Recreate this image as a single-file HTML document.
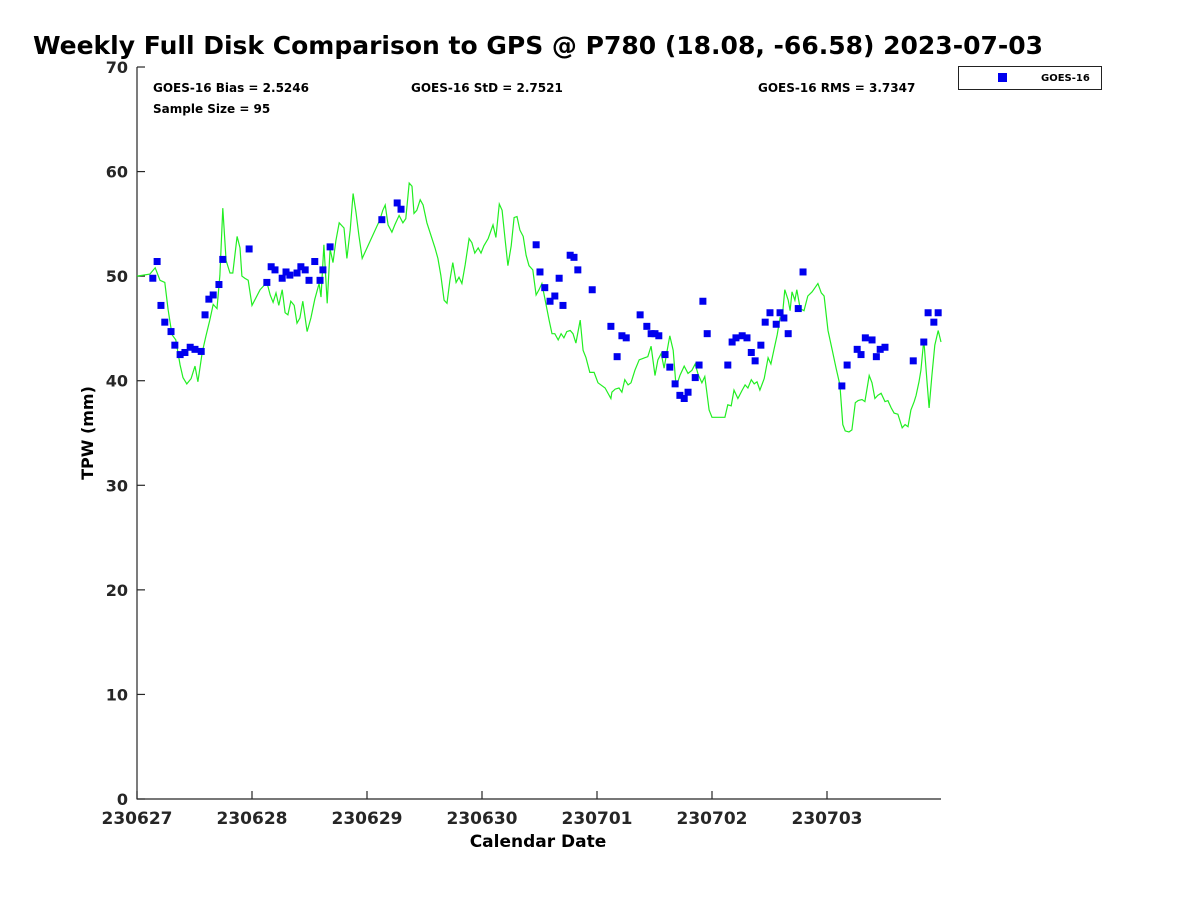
<!DOCTYPE html>
<html><head><meta charset="utf-8"><style>
body{margin:0;background:#fff;}
svg{display:block;font-family:"DejaVu Sans","Liberation Sans",sans-serif;}
</style></head><body>
<svg id="chart" width="1200" height="900">
<text x="538" y="54" text-anchor="middle" font-size="25" font-weight="bold">Weekly Full Disk Comparison to GPS @ P780 (18.08, -66.58) 2023-07-03</text>
<text x="153" y="92" font-size="12" font-weight="bold">GOES-16 Bias = 2.5246</text>
<text x="411" y="92" font-size="12" font-weight="bold">GOES-16 StD = 2.7521</text>
<text x="758" y="92" font-size="12" font-weight="bold">GOES-16 RMS = 3.7347</text>
<text x="153" y="113" font-size="12" font-weight="bold">Sample Size = 95</text>
<g>
<rect x="958.5" y="66.5" width="143" height="23" fill="#fff" stroke="#222"/>
<rect x="998" y="73" width="9" height="9" fill="#0000ee"/>
<text x="1041" y="81" font-size="10" font-weight="bold">GOES-16</text>
</g>
<g id="axes"></g>
<g id="gps"></g>
<g id="goes"></g>
<text x="538" y="847" text-anchor="middle" font-size="17" font-weight="bold">Calendar Date</text>
<text transform="translate(93,433) rotate(-90)" text-anchor="middle" font-size="16" font-weight="bold">TPW (mm)</text>
</svg>
<script>
const xTickLabels=["230627","230628","230629","230630","230701","230702","230703"];
const yTicks=[0,10,20,30,40,50,60,70];
const goesHours=[3.3,4.2,5.0,5.8,7.1,7.9,9.0,10.0,11.1,12.1,13.4,14.2,15.0,15.9,17.1,17.9,23.4,27.1,28.0,28.8,30.3,31.1,31.9,33.4,34.2,35.1,35.9,37.1,38.2,38.8,40.3,51.1,54.3,55.1,83.3,84.1,85.1,86.2,87.2,88.1,88.9,90.4,91.2,92.0,95.0,98.9,100.2,101.2,102.1,105.0,106.4,107.3,108.1,108.9,110.2,111.2,112.3,113.3,114.2,115.0,116.5,117.3,118.1,119.0,123.3,124.2,125.0,126.3,127.3,128.2,129.0,130.2,131.1,132.1,133.4,134.2,135.0,135.9,138.0,139.0,147.1,148.2,150.3,151.1,152.0,153.4,154.3,155.1,156.1,162.0,164.2,165.1,166.3,167.2];
const goesTPW=[49.8,51.4,47.2,45.6,44.7,43.4,42.5,42.7,43.2,43.0,42.8,46.3,47.8,48.2,49.2,51.6,52.6,49.4,50.9,50.6,49.8,50.4,50.1,50.3,50.9,50.6,49.6,51.4,49.6,50.6,52.8,55.4,57.0,56.4,53.0,50.4,48.9,47.6,48.1,49.8,47.2,52.0,51.8,50.6,48.7,45.2,42.3,44.3,44.1,46.3,45.2,44.5,44.5,44.3,42.5,41.3,39.7,38.6,38.3,38.9,40.3,41.5,47.6,44.5,41.5,43.7,44.1,44.3,44.1,42.7,41.9,43.4,45.6,46.5,45.4,46.5,46.0,44.5,46.9,50.4,39.5,41.5,43.0,42.5,44.1,43.9,42.3,43.0,43.2,41.9,43.7,46.5,45.6,46.5];
const gpsHours=[0,2.7,3.8,4.8,5.8,6.5,7.3,8.1,9.0,9.6,10.4,11.3,12.1,12.7,13.6,14.4,15.2,15.9,16.7,17.3,17.9,18.6,19.4,20.0,20.9,21.5,21.9,22.5,23.2,24.0,25.7,27.1,27.8,28.4,29.0,29.6,30.3,30.9,31.5,32.1,32.8,33.4,34.0,34.6,35.5,36.3,37.1,38.0,38.4,39.0,39.7,40.3,40.9,41.5,42.2,42.6,43.2,43.8,44.5,45.1,45.7,46.3,47.0,50.7,51.3,51.8,52.4,53.2,53.8,54.7,55.5,56.1,56.8,57.4,57.8,58.4,59.1,59.7,60.5,62.2,62.8,63.4,64.1,64.7,65.3,65.9,66.6,67.2,67.8,68.5,69.3,69.9,70.5,71.2,71.8,72.4,73.3,74.3,74.9,75.6,76.2,76.8,77.4,78.1,78.7,79.3,79.9,80.6,81.2,81.8,82.6,83.3,83.9,84.5,85.4,86.0,86.6,87.2,87.9,88.5,89.1,89.7,90.4,91.0,91.6,92.5,93.1,93.7,94.5,95.4,96.2,97.7,98.9,99.1,99.8,100.6,101.2,101.8,102.5,103.1,103.9,104.8,105.4,106.0,106.6,107.3,108.1,108.7,109.4,110.0,110.6,111.2,111.9,112.5,113.3,114.2,115.0,115.8,116.5,117.1,117.9,118.5,119.4,120.0,122.7,123.3,124.0,124.6,125.4,126.3,126.9,127.5,128.2,128.8,129.4,130.0,130.9,131.7,132.3,132.9,133.6,134.2,134.6,135.2,135.9,136.3,136.7,137.3,137.7,138.4,139.2,140.0,140.9,141.5,142.1,142.8,143.4,144.2,145.1,145.9,146.7,147.3,147.8,148.6,149.2,149.9,150.5,151.3,151.9,152.8,153.4,154.0,154.6,155.3,156.1,156.7,157.4,158.0,158.8,159.7,160.3,160.9,161.5,162.2,162.6,163.2,163.6,164.2,164.9,165.3,165.9,166.5,167.2,167.8];
const gpsTPW=[50.0,50.2,50.8,49.6,49.4,46.8,44.4,43.9,41.5,40.3,39.7,40.2,41.4,39.9,42.7,44.3,45.8,47.3,46.9,50.1,56.5,51.5,50.3,50.3,53.8,52.7,50.0,49.8,49.6,47.2,48.7,49.4,48.2,47.5,48.4,47.2,48.7,46.5,46.3,47.6,47.2,45.5,46.0,47.6,44.7,46.0,47.8,49.3,48.0,53.0,47.4,52.6,51.3,53.4,55.1,54.9,54.6,51.7,54.4,57.9,56.1,53.9,51.7,55.4,56.3,56.8,54.9,54.2,54.9,55.8,55.1,55.5,58.9,58.6,56.0,56.3,57.3,56.8,55.1,52.7,51.7,50.1,47.7,47.4,49.6,51.3,49.4,49.9,49.3,51.1,53.6,53.2,52.2,52.7,52.2,52.9,53.6,54.9,53.7,56.9,56.3,53.6,51.0,52.9,55.6,55.7,54.4,53.8,52.0,51.0,50.6,48.2,48.7,49.3,47.2,45.8,44.5,44.5,43.9,44.5,44.1,44.7,44.8,44.5,43.6,45.8,42.9,42.2,40.8,40.8,39.8,39.3,38.3,38.9,39.2,39.3,38.9,40.1,39.6,39.8,41.0,42.0,42.1,42.2,42.3,43.3,40.5,42.0,42.6,41.2,42.8,44.3,42.9,39.4,40.5,41.4,40.7,41.0,41.6,40.6,39.8,40.4,37.2,36.5,36.5,37.7,37.6,39.1,38.3,39.1,39.6,39.3,40.1,39.7,39.9,39.1,40.2,42.2,41.6,42.9,44.4,46.0,45.8,48.7,47.7,46.7,48.5,47.7,48.7,46.9,46.7,48.1,48.5,48.9,49.3,48.4,48.1,44.8,42.9,41.2,39.6,35.8,35.2,35.1,35.3,37.9,38.1,38.2,38.0,40.5,39.8,38.3,38.6,38.8,38.0,38.1,37.4,36.9,36.8,35.5,35.8,35.6,37.2,38.0,38.6,39.9,41.0,43.9,39.8,37.4,40.5,43.4,44.8,43.7];

const NS="http://www.w3.org/2000/svg";
const X0=137,PXH=115/24,Y0=799,PXMM=10.457;
const xs=h=>X0+h*PXH, ys=v=>Y0-v*PXMM;
function mk(tag,attrs,parent){const e=document.createElementNS(NS,tag);for(const k in attrs)e.setAttribute(k,attrs[k]);parent.appendChild(e);return e;}
const axes=document.getElementById('axes');
const la=mk('line',{x1:X0,y1:ys(70),x2:X0,y2:Y0+0.5,stroke:'#262626','stroke-width':1.2},axes);


const ba=mk('line',{x1:X0,y1:Y0,x2:941,y2:Y0,stroke:'#262626','stroke-width':1.2},axes);


yTicks.forEach(v=>{
 const t=mk('line',{x1:X0,y1:ys(v),x2:X0+8,y2:ys(v),stroke:'#262626','stroke-width':1.2},axes);
 
 
 const l=mk('text',{x:X0-9,y:ys(v)+6,'text-anchor':'end','font-size':16,'font-weight':'bold',fill:'#262626'},axes);
 l.textContent=v;
 
 
});
xTickLabels.forEach((s,i)=>{
 const x=xs(i*24);
 const t=mk('line',{x1:x,y1:Y0,x2:x,y2:Y0-8,stroke:'#262626','stroke-width':1.2},axes);
 
 
 const l=mk('text',{x:x,y:Y0+25,'text-anchor':'middle','font-size':17,'font-weight':'bold',fill:'#262626'},axes);
 l.textContent=s;
 
 
});
const pts=gpsHours.map((h,i)=>xs(h).toFixed(1)+','+ys(gpsTPW[i]).toFixed(1)).join(' ');
const pl=mk('polyline',{points:pts,fill:'none',stroke:'#22ee22','stroke-width':1.2},document.getElementById('gps'));


const g=document.getElementById('goes');
goesHours.forEach((h,i)=>{
 const r=mk('rect',{x:xs(h)-3.5,y:ys(goesTPW[i])-3.5,width:7,height:7,fill:'#0000ee'},g);
 
 
});
</script>
</body></html>
